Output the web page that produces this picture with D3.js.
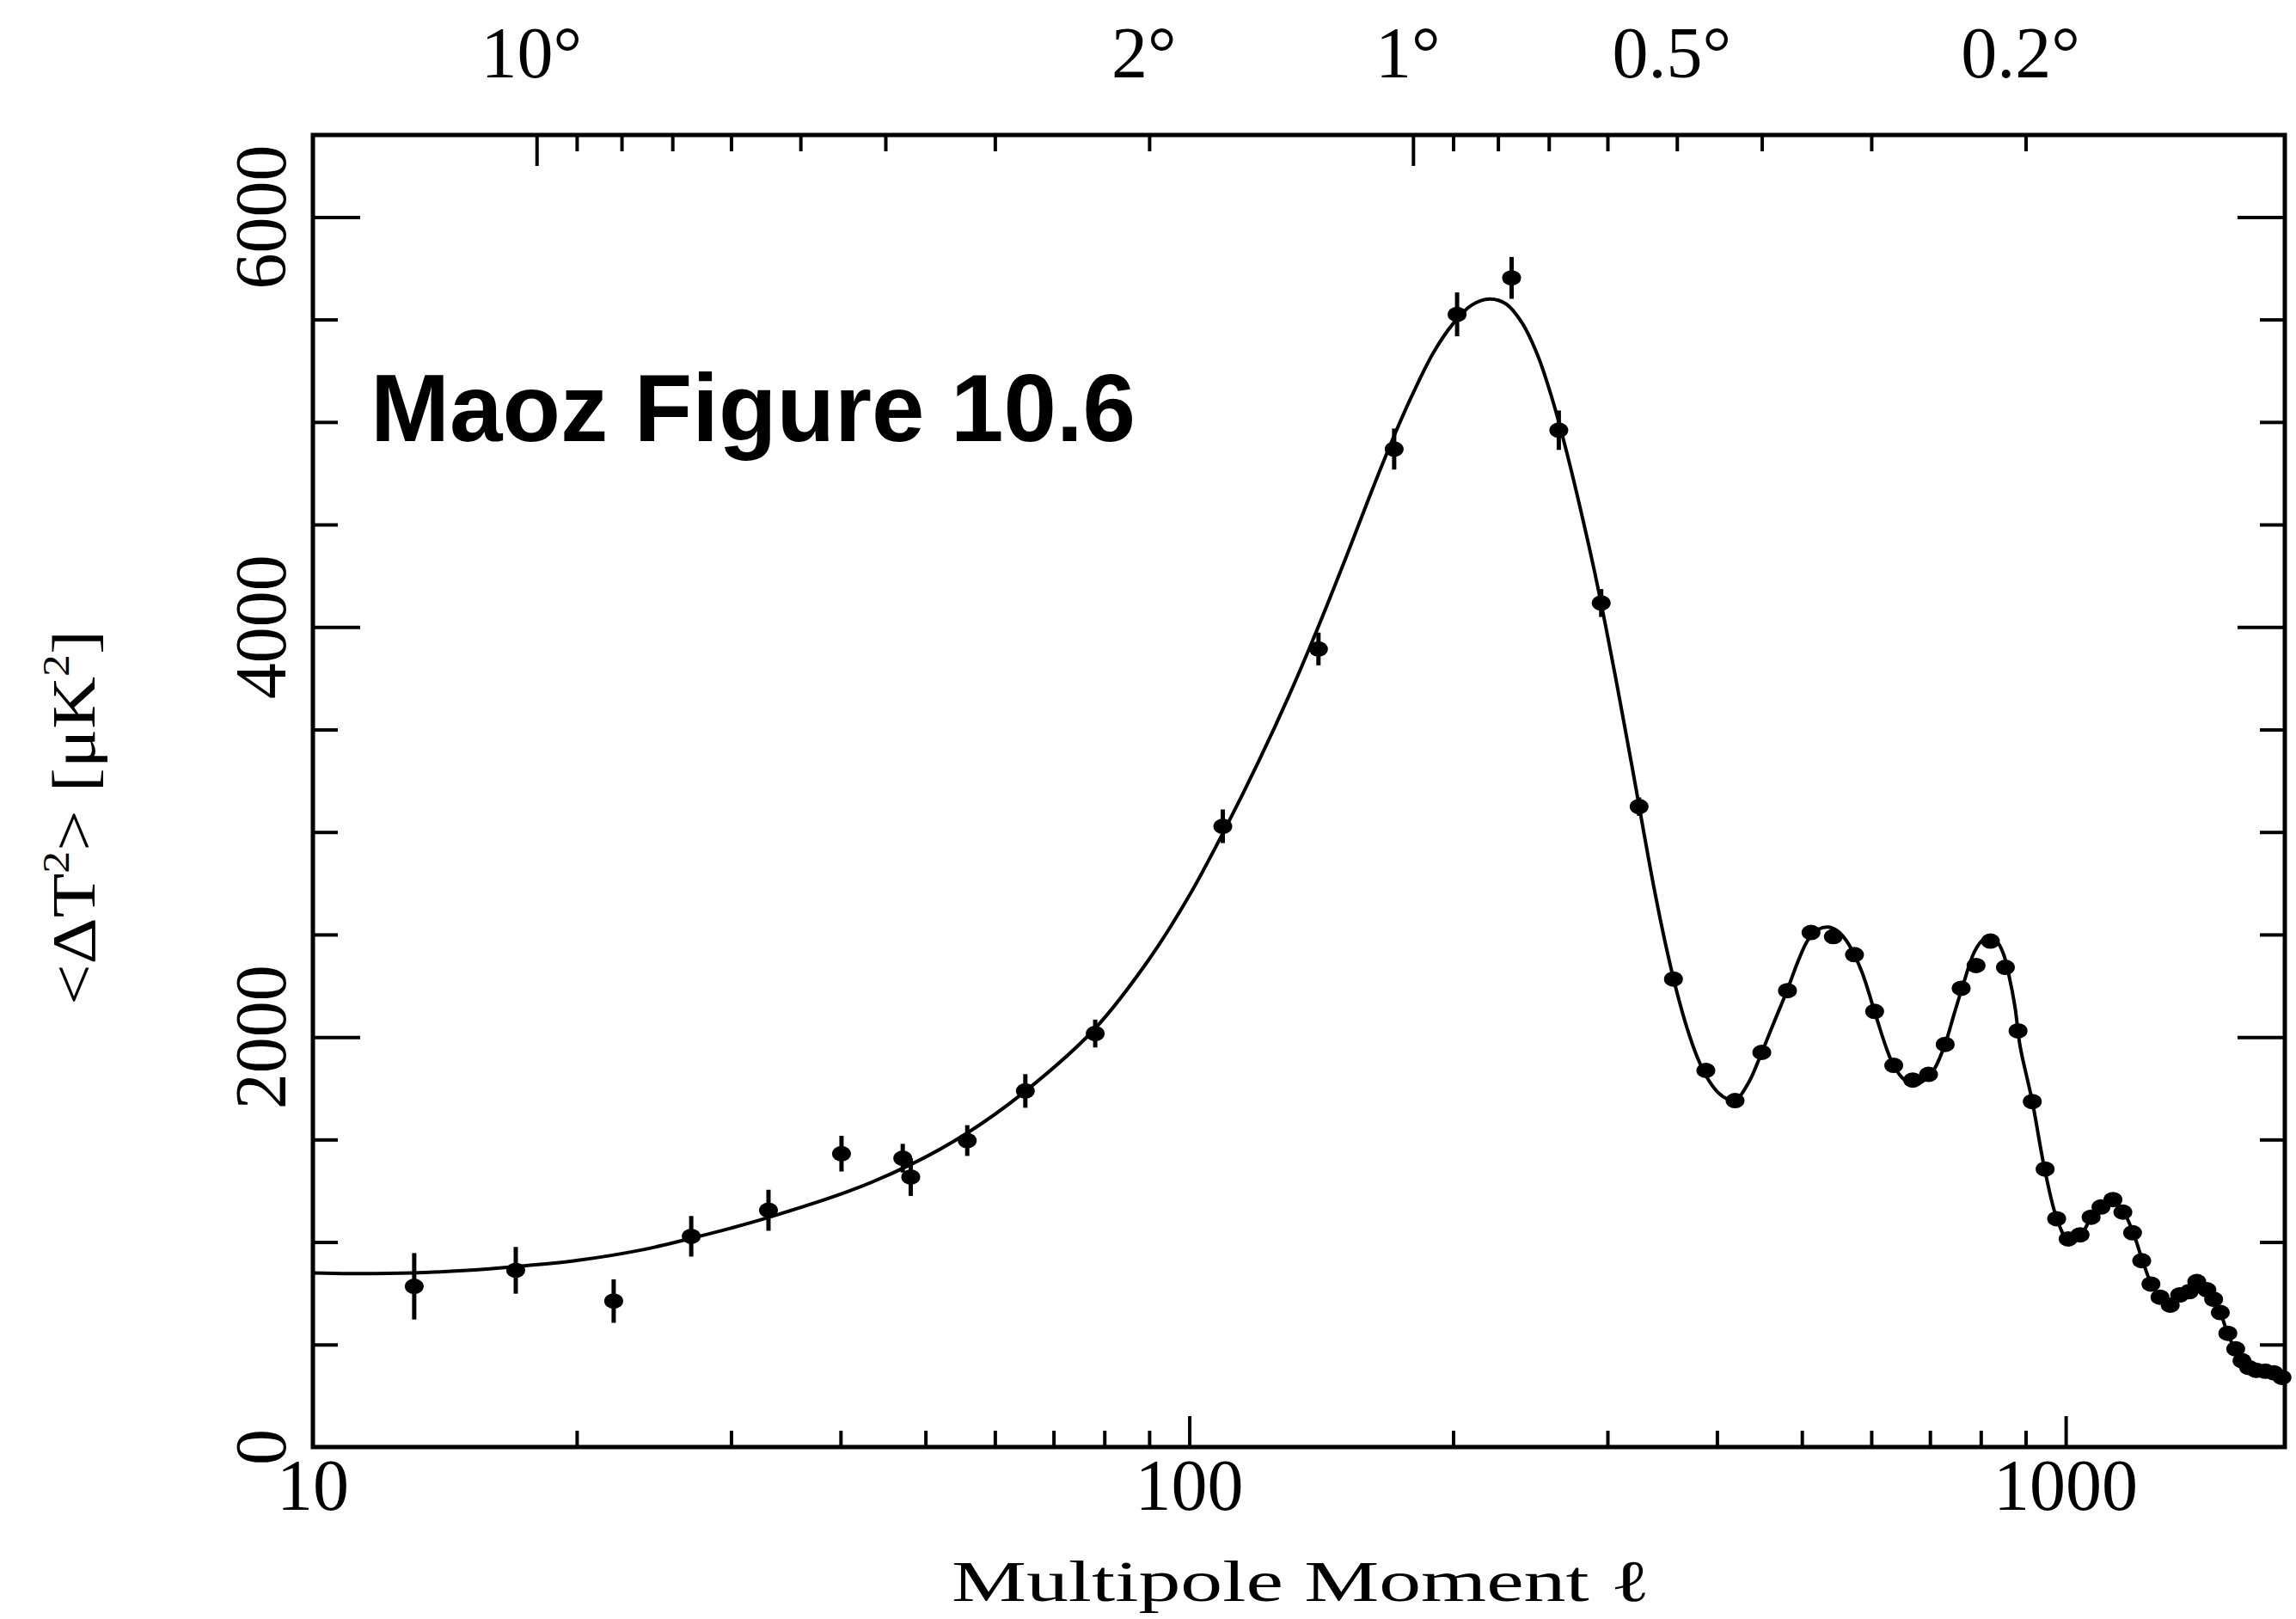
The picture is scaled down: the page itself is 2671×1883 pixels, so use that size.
<!DOCTYPE html>
<html lang="en">
<head>
<meta charset="UTF-8">
<title>Maoz Figure 10.6</title>
<style>
  body { margin: 0; background: #fff; }
  svg { display: block; }
  .tick line { stroke: #000; }
</style>
</head>
<body>
<svg id="plot" width="2671" height="1883"></svg>
<script src="https://d3js.org/d3.v7.min.js"></script>
<script>
// ---- data ----
// measured points: multipole, <dT^2> (uK^2), error
const ellPts = [13.05, 17.04, 22.04, 27.02, 33.1, 40.1, 47.1, 48.1, 55.8, 65.0, 78.1, 109.2, 140.4, 171.3, 202.1, 233.2, 264.0, 295.1,
  326.0, 356.8, 388.5, 419.5, 450.0, 481.4, 512.1, 543.1, 574.1, 605.3, 636.5, 669.1, 697.4, 728.6, 759.8, 790.1, 820.5, 853.5, 882.3,
  915.9, 947.3, 976.5, 1006.5, 1038.4, 1069, 1097, 1132, 1162, 1192, 1221, 1251, 1281, 1316, 1349, 1383, 1411, 1449, 1475, 1501,
  1531, 1563, 1589, 1617, 1650, 1690, 1728, 1765];
const powPts = [784, 862, 712, 1028, 1155, 1431, 1409, 1317, 1495, 1737, 2017, 3028, 3893, 4868, 5525, 5703, 4960, 4117,
  3124, 2283, 1837, 1690, 1925, 2226, 2510, 2490, 2402, 2125, 1862, 1790, 1818, 1964, 2238, 2349, 2468, 2340, 2030,
  1685, 1356, 1114, 1015, 1035, 1121, 1171, 1207, 1146, 1045, 909, 795, 731, 692, 742, 758, 807, 767, 721, 656,
  555, 479, 421, 388, 374, 370, 362, 340];
const errPts = [162, 114, 106, 99, 100, 87, 70, 92, 75, 82, 68, 82, 80, 100, 107, 102, 96, 68,
  45, 30, 30, 30, 30, 30, 30, 30, 30, 30, 30, 30, 30, 30, 30, 30, 30, 30, 30,
  30, 30, 30, 30, 30, 30, 30, 30, 30, 30, 30, 30, 30, 30, 30, 30, 30, 30, 30, 30,
  30, 30, 30, 30, 30, 30, 30, 30];

// model curve
const curveEll = [10, 11, 13, 15, 17, 20, 23.75, 27, 30, 33, 41, 48, 55.7, 65, 78, 90, 100, 110, 120, 130, 140, 150, 160, 170, 180,
  190, 200, 210, 220, 230, 240, 250, 260, 270, 280, 290, 300, 310, 320, 330, 340, 350, 360, 370, 380, 390, 400, 410, 420,
  435, 450, 465, 481, 495, 508, 522, 536, 550, 565, 585, 608, 625, 637, 655, 672, 690, 708, 729, 745, 763, 787, 805, 822,
  837, 850, 861, 875, 887, 916, 946, 977, 1006, 1039, 1071, 1100, 1133, 1165, 1194, 1224, 1252, 1283, 1317, 1347,
  1383, 1412, 1452, 1480, 1502, 1531, 1560, 1584, 1614, 1651, 1688, 1727, 1778];
const curvePow = [849, 846, 849, 862, 880, 910, 962, 1018, 1068, 1118, 1250, 1376, 1530, 1736, 2040, 2380, 2690, 3020, 3345, 3667, 3990, 4310, 4620, 4900, 5140,
  5340, 5480, 5570, 5600, 5575, 5480, 5320, 5100, 4840, 4560, 4270, 3960, 3640, 3320, 3000, 2700, 2440, 2220, 2040, 1900, 1800, 1735, 1700, 1692,
  1780, 1925, 2075, 2228, 2370, 2473, 2525, 2536, 2515, 2455, 2320, 2096, 1940, 1857, 1790, 1767, 1790, 1844, 1970, 2105, 2249, 2417, 2475, 2482,
  2459, 2400, 2305, 2150, 1956, 1685, 1357, 1114, 1011, 1033, 1123, 1170, 1207, 1146, 1045, 908, 796, 730, 692, 734,
  758, 805, 767, 720, 655, 552, 477, 421, 389, 374, 369, 359, 330];

// axis ticks
const xMajor = [10, 100, 1000];
const xMinor = [20, 30, 40, 50, 60, 70, 80, 90, 200, 300, 400, 500, 600, 700, 800, 900];
const xLabels = ["10", "100", "1000"];
const yMajor = [0, 2000, 4000, 6000];
const yMinor = [500, 1000, 1500, 2500, 3000, 3500, 4500, 5000, 5500];
const degMajor = [10, 1];
const degMinor = [9, 8, 7, 6, 5, 4, 3, 2, 0.9, 0.8, 0.7, 0.6, 0.5, 0.4, 0.3, 0.2];
const degLabels = [10, 2, 1, 0.5, 0.2];

const L = 364, R = 2658, T = 157, B = 1683;
const svg = d3.select("#plot");

const x = d3.scaleLog().domain([10, 1778.28]).range([L, R]);
const y = d3.scaleLinear().domain([0, 6400]).range([B, T]);
// angular scale on top: theta = 180 / ell
const th = d3.scaleLog().domain([180 / 10, 180 / 1778.28]).range([L, R]);

// ticks (all point inward)
function ticks(axis, tr) {
  const g = svg.append("g").attr("transform", tr).call(axis);
  g.select(".domain").remove();
  g.selectAll(".tick line").attr("stroke-width", 4);
  g.selectAll(".tick text").remove();
}
ticks(d3.axisBottom(x).tickValues(xMajor.slice(1)).tickSize(-36), `translate(0,${B})`);
ticks(d3.axisBottom(x).tickValues(xMinor).tickSize(-19), `translate(0,${B})`);
ticks(d3.axisTop(th).tickValues(degMajor).tickSize(-36), `translate(0,${T})`);
ticks(d3.axisTop(th).tickValues(degMinor).tickSize(-19), `translate(0,${T})`);
ticks(d3.axisLeft(y).tickValues(yMajor.slice(1)).tickSize(-55), `translate(${L},0)`);
ticks(d3.axisLeft(y).tickValues(yMinor).tickSize(-29), `translate(${L},0)`);
ticks(d3.axisRight(y).tickValues(yMajor.slice(1)).tickSize(-55), `translate(${R},0)`);
ticks(d3.axisRight(y).tickValues(yMinor).tickSize(-29), `translate(${R},0)`);

// frame
svg.append("rect").attr("x", L).attr("y", T).attr("width", R - L).attr("height", B - T)
  .attr("fill", "none").attr("stroke", "#000").attr("stroke-width", 5);

const serif = "'Liberation Serif', 'DejaVu Serif', serif";

// bottom labels
svg.append("g").selectAll("text").data(xMajor).join("text")
  .attr("x", d => x(d)).attr("y", 1756)
  .attr("text-anchor", "middle").attr("font-family", serif).attr("font-size", 84)
  .text((d, i) => xLabels[i]);

// top labels
svg.append("g").selectAll("text").data(degLabels).join("text")
  .attr("x", d => th(d) - 6).attr("y", 90)
  .attr("text-anchor", "middle").attr("font-family", serif).attr("font-size", 84)
  .text(d => d + "\u00B0");

// left labels (rotated)
svg.append("g").selectAll("text").data(yMajor).join("text")
  .attr("transform", d => `translate(332,${y(d)}) rotate(-90)`)
  .attr("text-anchor", "middle").attr("font-family", serif).attr("font-size", 84)
  .text(d => d);

// axis titles
svg.append("text").attr("x", 1107).attr("y", 1862)
  .attr("font-family", serif).attr("font-size", 68)
  .attr("textLength", 813).attr("lengthAdjust", "spacingAndGlyphs")
  .text("Multipole  Moment  \u2113");

const yt = svg.append("text").attr("transform", "translate(110,1169) rotate(-90)")
  .attr("font-family", serif).attr("font-size", 72)
  .attr("textLength", 436).attr("lengthAdjust", "spacingAndGlyphs");
yt.append("tspan").text("<\u0394T");
yt.append("tspan").attr("dy", -30).attr("font-size", 44).text("2");
yt.append("tspan").attr("dy", 30).text(">  [\u03BCK");
yt.append("tspan").attr("dy", -30).attr("font-size", 44).text("2");
yt.append("tspan").attr("dy", 30).text("]");

// model curve
const curveData = curveEll.map((e, i) => [e, curvePow[i]]);
svg.append("clipPath").attr("id", "clip").append("rect")
  .attr("x", L).attr("y", T).attr("width", R - L).attr("height", B - T);
svg.append("path").datum(curveData)
  .attr("clip-path", "url(#clip)")
  .attr("fill", "none").attr("stroke", "#000").attr("stroke-width", 4)
  .attr("stroke-linejoin", "round")
  .attr("d", d3.line().x(d => x(d[0])).y(d => y(d[1])).curve(d3.curveCatmullRom.alpha(0.5)));

// points with error bars
const pts = ellPts.map((e, i) => ({ l: e, v: powPts[i], e: errPts[i] }));
const pg = svg.append("g");
pg.selectAll("line").data(pts).join("line")
  .attr("x1", d => x(d.l)).attr("x2", d => x(d.l))
  .attr("y1", d => y(d.v - d.e)).attr("y2", d => y(d.v + d.e))
  .attr("stroke", "#000").attr("stroke-width", 5);
pg.selectAll("ellipse").data(pts).join("ellipse")
  .attr("cx", d => x(d.l)).attr("cy", d => y(d.v))
  .attr("rx", 11).attr("ry", 9).attr("fill", "#000");

// label in the corner
svg.append("text").attr("x", 431).attr("y", 513)
  .attr("font-family", "'Liberation Sans', Arial, sans-serif").attr("font-weight", "bold")
  .attr("font-size", 112).attr("textLength", 890).attr("lengthAdjust", "spacingAndGlyphs")
  .text("Maoz Figure 10.6");
</script>
</body>
</html>
